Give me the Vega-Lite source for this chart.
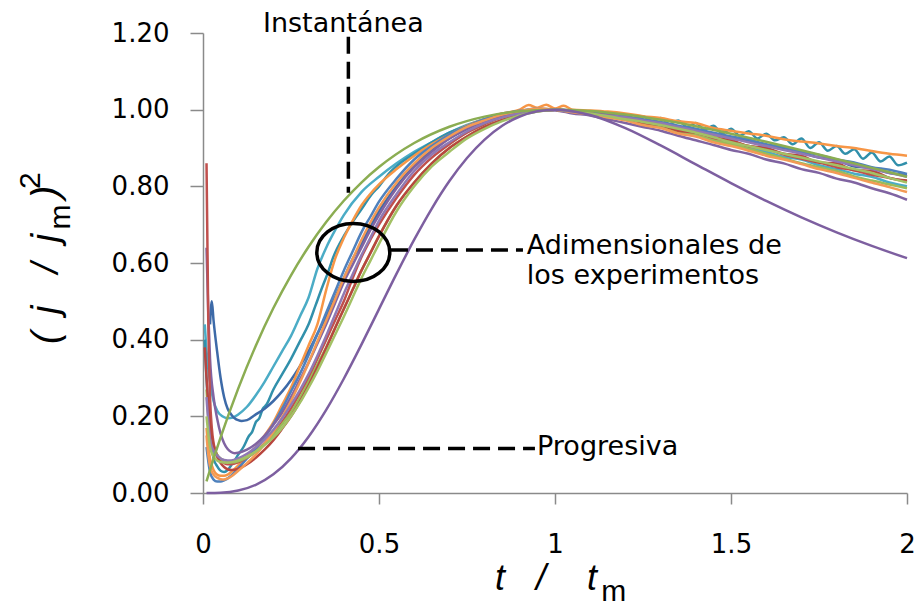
{
"$schema": "https://vega.github.io/schema/vega-lite/v6.json",
"width": 704, "height": 460,
"autosize": {"type": "none"},
"padding": {"left": 203, "top": 33, "right": 13, "bottom": 116},
"background": "white",
"config": {"view": {"stroke": null}},
"encoding": {
 "x": {"field": "t", "type": "quantitative", "scale": {"domain": [0, 2], "nice": false, "zero": false},
  "axis": {"values": [0, 0.5, 1, 1.5, 2], "format": "~g", "title": null, "grid": false, "tickSize": 11, "labelPadding": 27, "labelFontSize": 26, "labelFont": "DejaVu Sans", "labelColor": "#000000", "domainColor": "#8a8a8a", "tickColor": "#8a8a8a", "domainWidth": 1.5, "tickWidth": 1.5, "labelFlush": false, "labelOverlap": false}},
 "y": {"field": "y", "type": "quantitative", "scale": {"domain": [0, 1.2], "nice": false, "zero": false},
  "axis": {"values": [0, 0.2, 0.4, 0.6, 0.8, 1.0, 1.2], "format": ".2f", "title": null, "grid": false, "tickSize": 13, "labelPadding": 21, "labelFontSize": 26, "labelFont": "DejaVu Sans", "labelColor": "#000000", "domainColor": "#8a8a8a", "tickColor": "#8a8a8a", "domainWidth": 1.5, "tickWidth": 1.5, "labelFlush": false, "labelOverlap": false}}
},
"layer": [
{
 "data": {"values": [
{"s":"e01","t":0.005,"y":0.44},{"s":"e01","t":0.01,"y":0.37},{"s":"e01","t":0.02,"y":0.29},{"s":"e01","t":0.03,"y":0.24},{"s":"e01","t":0.04,"y":0.215},{"s":"e01","t":0.055,"y":0.2},{"s":"e01","t":0.07,"y":0.195},{"s":"e01","t":0.085,"y":0.197},{"s":"e01","t":0.1,"y":0.205},{"s":"e01","t":0.125,"y":0.225},{"s":"e01","t":0.15,"y":0.255},{"s":"e01","t":0.175,"y":0.29},{"s":"e01","t":0.2,"y":0.33},{"s":"e01","t":0.225,"y":0.37},{"s":"e01","t":0.25,"y":0.41},{"s":"e01","t":0.275,"y":0.46},{"s":"e01","t":0.3,"y":0.51},{"s":"e01","t":0.325,"y":0.585},{"s":"e01","t":0.35,"y":0.64},{"s":"e01","t":0.375,"y":0.685},{"s":"e01","t":0.4,"y":0.725},{"s":"e01","t":0.45,"y":0.785},{"s":"e01","t":0.5,"y":0.825},{"s":"e01","t":0.55,"y":0.86},{"s":"e01","t":0.6,"y":0.89},{"s":"e01","t":0.65,"y":0.915},{"s":"e01","t":0.7,"y":0.94},{"s":"e01","t":0.75,"y":0.96},{"s":"e01","t":0.8,"y":0.975},{"s":"e01","t":0.85,"y":0.987},{"s":"e01","t":0.9,"y":0.995},{"s":"e01","t":0.95,"y":1.0},{"s":"e01","t":1.0,"y":1.0},{"s":"e01","t":1.05,"y":0.995},{"s":"e01","t":1.1,"y":0.99},{"s":"e01","t":1.15,"y":0.985},{"s":"e01","t":1.2,"y":0.975},{"s":"e01","t":1.25,"y":0.963},{"s":"e01","t":1.3,"y":0.955},{"s":"e01","t":1.35,"y":0.944},{"s":"e01","t":1.4,"y":0.935},{"s":"e01","t":1.45,"y":0.92},{"s":"e01","t":1.5,"y":0.91},{"s":"e01","t":1.55,"y":0.9},{"s":"e01","t":1.6,"y":0.89},{"s":"e01","t":1.65,"y":0.877},{"s":"e01","t":1.7,"y":0.87},{"s":"e01","t":1.75,"y":0.855},{"s":"e01","t":1.8,"y":0.845},{"s":"e01","t":1.85,"y":0.833},{"s":"e01","t":1.9,"y":0.825},{"s":"e01","t":1.95,"y":0.81},{"s":"e01","t":2.0,"y":0.8},
{"s":"e02","t":0.005,"y":0.4},{"s":"e02","t":0.01,"y":0.3},{"s":"e02","t":0.02,"y":0.15},{"s":"e02","t":0.03,"y":0.09},{"s":"e02","t":0.04,"y":0.07},{"s":"e02","t":0.05,"y":0.058},{"s":"e02","t":0.06,"y":0.055},{"s":"e02","t":0.07,"y":0.06},{"s":"e02","t":0.08,"y":0.072},{"s":"e02","t":0.09,"y":0.085},{"s":"e02","t":0.1,"y":0.1},{"s":"e02","t":0.115,"y":0.12},{"s":"e02","t":0.13,"y":0.148},{"s":"e02","t":0.14,"y":0.16},{"s":"e02","t":0.15,"y":0.185},{"s":"e02","t":0.16,"y":0.195},{"s":"e02","t":0.17,"y":0.22},{"s":"e02","t":0.18,"y":0.23},{"s":"e02","t":0.2,"y":0.27},{"s":"e02","t":0.225,"y":0.31},{"s":"e02","t":0.25,"y":0.35},{"s":"e02","t":0.275,"y":0.395},{"s":"e02","t":0.3,"y":0.44},{"s":"e02","t":0.32,"y":0.49},{"s":"e02","t":0.34,"y":0.54},{"s":"e02","t":0.355,"y":0.575},{"s":"e02","t":0.37,"y":0.615},{"s":"e02","t":0.4,"y":0.67},{"s":"e02","t":0.42,"y":0.7},{"s":"e02","t":0.45,"y":0.74},{"s":"e02","t":0.48,"y":0.78},{"s":"e02","t":0.5,"y":0.8},{"s":"e02","t":0.53,"y":0.835},{"s":"e02","t":0.56,"y":0.86},{"s":"e02","t":0.6,"y":0.885},{"s":"e02","t":0.65,"y":0.915},{"s":"e02","t":0.7,"y":0.94},{"s":"e02","t":0.75,"y":0.958},{"s":"e02","t":0.8,"y":0.975},{"s":"e02","t":0.85,"y":0.99},{"s":"e02","t":0.9,"y":0.995},{"s":"e02","t":0.95,"y":1.0},{"s":"e02","t":1.0,"y":1.0},{"s":"e02","t":1.05,"y":0.998},{"s":"e02","t":1.1,"y":0.993},{"s":"e02","t":1.15,"y":0.99},{"s":"e02","t":1.2,"y":0.983},{"s":"e02","t":1.225,"y":0.975},{"s":"e02","t":1.25,"y":0.983},{"s":"e02","t":1.275,"y":0.97},{"s":"e02","t":1.3,"y":0.978},{"s":"e02","t":1.325,"y":0.962},{"s":"e02","t":1.35,"y":0.972},{"s":"e02","t":1.375,"y":0.955},{"s":"e02","t":1.4,"y":0.965},{"s":"e02","t":1.425,"y":0.948},{"s":"e02","t":1.45,"y":0.958},{"s":"e02","t":1.475,"y":0.938},{"s":"e02","t":1.5,"y":0.95},{"s":"e02","t":1.525,"y":0.932},{"s":"e02","t":1.55,"y":0.944},{"s":"e02","t":1.575,"y":0.925},{"s":"e02","t":1.6,"y":0.937},{"s":"e02","t":1.625,"y":0.92},{"s":"e02","t":1.65,"y":0.928},{"s":"e02","t":1.675,"y":0.91},{"s":"e02","t":1.7,"y":0.925},{"s":"e02","t":1.725,"y":0.9},{"s":"e02","t":1.75,"y":0.915},{"s":"e02","t":1.775,"y":0.893},{"s":"e02","t":1.8,"y":0.905},{"s":"e02","t":1.825,"y":0.885},{"s":"e02","t":1.85,"y":0.897},{"s":"e02","t":1.875,"y":0.872},{"s":"e02","t":1.9,"y":0.888},{"s":"e02","t":1.925,"y":0.865},{"s":"e02","t":1.95,"y":0.878},{"s":"e02","t":1.975,"y":0.855},{"s":"e02","t":2.0,"y":0.862},
{"s":"e03","t":0.02,"y":0.44},{"s":"e03","t":0.025,"y":0.5},{"s":"e03","t":0.03,"y":0.45},{"s":"e03","t":0.04,"y":0.37},{"s":"e03","t":0.05,"y":0.3},{"s":"e03","t":0.06,"y":0.25},{"s":"e03","t":0.07,"y":0.22},{"s":"e03","t":0.08,"y":0.205},{"s":"e03","t":0.09,"y":0.195},{"s":"e03","t":0.1,"y":0.19},{"s":"e03","t":0.11,"y":0.188},{"s":"e03","t":0.125,"y":0.19},{"s":"e03","t":0.15,"y":0.205},{"s":"e03","t":0.175,"y":0.22},{"s":"e03","t":0.2,"y":0.24},{"s":"e03","t":0.225,"y":0.265},{"s":"e03","t":0.25,"y":0.295},{"s":"e03","t":0.275,"y":0.33},{"s":"e03","t":0.3,"y":0.37},{"s":"e03","t":0.325,"y":0.415},{"s":"e03","t":0.35,"y":0.46},{"s":"e03","t":0.375,"y":0.51},{"s":"e03","t":0.4,"y":0.56},{"s":"e03","t":0.425,"y":0.61},{"s":"e03","t":0.45,"y":0.65},{"s":"e03","t":0.475,"y":0.695},{"s":"e03","t":0.5,"y":0.735},{"s":"e03","t":0.55,"y":0.8},{"s":"e03","t":0.6,"y":0.855},{"s":"e03","t":0.65,"y":0.895},{"s":"e03","t":0.7,"y":0.925},{"s":"e03","t":0.75,"y":0.95},{"s":"e03","t":0.8,"y":0.97},{"s":"e03","t":0.85,"y":0.985},{"s":"e03","t":0.9,"y":0.993},{"s":"e03","t":0.95,"y":1.0},{"s":"e03","t":1.0,"y":1.0},{"s":"e03","t":1.05,"y":0.998},{"s":"e03","t":1.1,"y":0.99},{"s":"e03","t":1.15,"y":0.988},{"s":"e03","t":1.2,"y":0.98},{"s":"e03","t":1.25,"y":0.97},{"s":"e03","t":1.3,"y":0.965},{"s":"e03","t":1.35,"y":0.952},{"s":"e03","t":1.4,"y":0.945},{"s":"e03","t":1.45,"y":0.935},{"s":"e03","t":1.5,"y":0.925},{"s":"e03","t":1.55,"y":0.918},{"s":"e03","t":1.6,"y":0.905},{"s":"e03","t":1.65,"y":0.9},{"s":"e03","t":1.7,"y":0.888},{"s":"e03","t":1.75,"y":0.875},{"s":"e03","t":1.8,"y":0.868},{"s":"e03","t":1.85,"y":0.852},{"s":"e03","t":1.9,"y":0.848},{"s":"e03","t":1.95,"y":0.835},{"s":"e03","t":2.0,"y":0.83},
{"s":"e04","t":0.01,"y":0.17},{"s":"e04","t":0.015,"y":0.12},{"s":"e04","t":0.02,"y":0.09},{"s":"e04","t":0.03,"y":0.06},{"s":"e04","t":0.04,"y":0.048},{"s":"e04","t":0.05,"y":0.045},{"s":"e04","t":0.06,"y":0.045},{"s":"e04","t":0.07,"y":0.048},{"s":"e04","t":0.08,"y":0.054},{"s":"e04","t":0.1,"y":0.072},{"s":"e04","t":0.125,"y":0.095},{"s":"e04","t":0.15,"y":0.12},{"s":"e04","t":0.175,"y":0.15},{"s":"e04","t":0.2,"y":0.185},{"s":"e04","t":0.225,"y":0.23},{"s":"e04","t":0.25,"y":0.275},{"s":"e04","t":0.275,"y":0.33},{"s":"e04","t":0.3,"y":0.385},{"s":"e04","t":0.325,"y":0.44},{"s":"e04","t":0.35,"y":0.53},{"s":"e04","t":0.375,"y":0.61},{"s":"e04","t":0.4,"y":0.665},{"s":"e04","t":0.425,"y":0.71},{"s":"e04","t":0.45,"y":0.75},{"s":"e04","t":0.475,"y":0.78},{"s":"e04","t":0.5,"y":0.805},{"s":"e04","t":0.55,"y":0.845},{"s":"e04","t":0.6,"y":0.88},{"s":"e04","t":0.65,"y":0.91},{"s":"e04","t":0.7,"y":0.935},{"s":"e04","t":0.75,"y":0.958},{"s":"e04","t":0.8,"y":0.975},{"s":"e04","t":0.85,"y":0.99},{"s":"e04","t":0.9,"y":1.0},{"s":"e04","t":0.925,"y":1.012},{"s":"e04","t":0.95,"y":1.005},{"s":"e04","t":0.975,"y":1.013},{"s":"e04","t":1.0,"y":1.003},{"s":"e04","t":1.025,"y":1.01},{"s":"e04","t":1.05,"y":1.0},{"s":"e04","t":1.1,"y":0.998},{"s":"e04","t":1.15,"y":0.995},{"s":"e04","t":1.2,"y":0.99},{"s":"e04","t":1.25,"y":0.983},{"s":"e04","t":1.3,"y":0.978},{"s":"e04","t":1.35,"y":0.97},{"s":"e04","t":1.4,"y":0.965},{"s":"e04","t":1.45,"y":0.952},{"s":"e04","t":1.5,"y":0.945},{"s":"e04","t":1.55,"y":0.938},{"s":"e04","t":1.6,"y":0.932},{"s":"e04","t":1.65,"y":0.923},{"s":"e04","t":1.7,"y":0.917},{"s":"e04","t":1.75,"y":0.912},{"s":"e04","t":1.8,"y":0.905},{"s":"e04","t":1.85,"y":0.9},{"s":"e04","t":1.9,"y":0.892},{"s":"e04","t":1.95,"y":0.885},{"s":"e04","t":2.0,"y":0.88},
{"s":"e05","t":0.01,"y":0.12},{"s":"e05","t":0.02,"y":0.055},{"s":"e05","t":0.03,"y":0.035},{"s":"e05","t":0.04,"y":0.03},{"s":"e05","t":0.05,"y":0.03},{"s":"e05","t":0.06,"y":0.033},{"s":"e05","t":0.08,"y":0.045},{"s":"e05","t":0.1,"y":0.065},{"s":"e05","t":0.125,"y":0.09},{"s":"e05","t":0.15,"y":0.115},{"s":"e05","t":0.175,"y":0.145},{"s":"e05","t":0.2,"y":0.18},{"s":"e05","t":0.225,"y":0.22},{"s":"e05","t":0.25,"y":0.265},{"s":"e05","t":0.275,"y":0.31},{"s":"e05","t":0.3,"y":0.36},{"s":"e05","t":0.325,"y":0.415},{"s":"e05","t":0.35,"y":0.47},{"s":"e05","t":0.375,"y":0.525},{"s":"e05","t":0.4,"y":0.58},{"s":"e05","t":0.425,"y":0.63},{"s":"e05","t":0.45,"y":0.68},{"s":"e05","t":0.475,"y":0.72},{"s":"e05","t":0.5,"y":0.76},{"s":"e05","t":0.55,"y":0.82},{"s":"e05","t":0.6,"y":0.87},{"s":"e05","t":0.65,"y":0.905},{"s":"e05","t":0.7,"y":0.935},{"s":"e05","t":0.75,"y":0.957},{"s":"e05","t":0.8,"y":0.975},{"s":"e05","t":0.85,"y":0.988},{"s":"e05","t":0.9,"y":0.997},{"s":"e05","t":0.95,"y":1.003},{"s":"e05","t":1.0,"y":1.0},{"s":"e05","t":1.05,"y":0.997},{"s":"e05","t":1.1,"y":0.994},{"s":"e05","t":1.15,"y":0.99},{"s":"e05","t":1.2,"y":0.983},{"s":"e05","t":1.25,"y":0.975},{"s":"e05","t":1.3,"y":0.968},{"s":"e05","t":1.35,"y":0.958},{"s":"e05","t":1.4,"y":0.95},{"s":"e05","t":1.45,"y":0.94},{"s":"e05","t":1.5,"y":0.93},{"s":"e05","t":1.55,"y":0.922},{"s":"e05","t":1.6,"y":0.91},{"s":"e05","t":1.65,"y":0.902},{"s":"e05","t":1.7,"y":0.89},{"s":"e05","t":1.75,"y":0.882},{"s":"e05","t":1.8,"y":0.87},{"s":"e05","t":1.85,"y":0.862},{"s":"e05","t":1.9,"y":0.85},{"s":"e05","t":1.95,"y":0.843},{"s":"e05","t":2.0,"y":0.832},
{"s":"e06","t":0.01,"y":0.64},{"s":"e06","t":0.015,"y":0.47},{"s":"e06","t":0.02,"y":0.35},{"s":"e06","t":0.03,"y":0.25},{"s":"e06","t":0.04,"y":0.195},{"s":"e06","t":0.05,"y":0.155},{"s":"e06","t":0.06,"y":0.13},{"s":"e06","t":0.07,"y":0.115},{"s":"e06","t":0.08,"y":0.107},{"s":"e06","t":0.09,"y":0.104},{"s":"e06","t":0.1,"y":0.105},{"s":"e06","t":0.125,"y":0.113},{"s":"e06","t":0.15,"y":0.128},{"s":"e06","t":0.175,"y":0.15},{"s":"e06","t":0.2,"y":0.178},{"s":"e06","t":0.225,"y":0.21},{"s":"e06","t":0.25,"y":0.25},{"s":"e06","t":0.275,"y":0.295},{"s":"e06","t":0.3,"y":0.34},{"s":"e06","t":0.325,"y":0.39},{"s":"e06","t":0.35,"y":0.44},{"s":"e06","t":0.375,"y":0.495},{"s":"e06","t":0.4,"y":0.55},{"s":"e06","t":0.425,"y":0.595},{"s":"e06","t":0.45,"y":0.64},{"s":"e06","t":0.475,"y":0.685},{"s":"e06","t":0.5,"y":0.725},{"s":"e06","t":0.55,"y":0.795},{"s":"e06","t":0.6,"y":0.85},{"s":"e06","t":0.65,"y":0.89},{"s":"e06","t":0.7,"y":0.925},{"s":"e06","t":0.75,"y":0.95},{"s":"e06","t":0.8,"y":0.97},{"s":"e06","t":0.85,"y":0.985},{"s":"e06","t":0.9,"y":0.993},{"s":"e06","t":0.95,"y":0.998},{"s":"e06","t":1.0,"y":0.998},{"s":"e06","t":1.05,"y":0.99},{"s":"e06","t":1.1,"y":0.985},{"s":"e06","t":1.15,"y":0.975},{"s":"e06","t":1.2,"y":0.965},{"s":"e06","t":1.25,"y":0.955},{"s":"e06","t":1.3,"y":0.945},{"s":"e06","t":1.35,"y":0.932},{"s":"e06","t":1.4,"y":0.92},{"s":"e06","t":1.45,"y":0.908},{"s":"e06","t":1.5,"y":0.895},{"s":"e06","t":1.55,"y":0.885},{"s":"e06","t":1.6,"y":0.87},{"s":"e06","t":1.65,"y":0.86},{"s":"e06","t":1.7,"y":0.845},{"s":"e06","t":1.75,"y":0.835},{"s":"e06","t":1.8,"y":0.82},{"s":"e06","t":1.85,"y":0.81},{"s":"e06","t":1.9,"y":0.795},{"s":"e06","t":1.95,"y":0.782},{"s":"e06","t":2.0,"y":0.765},
{"s":"e07","t":0.01,"y":0.86},{"s":"e07","t":0.015,"y":0.45},{"s":"e07","t":0.02,"y":0.25},{"s":"e07","t":0.025,"y":0.17},{"s":"e07","t":0.03,"y":0.13},{"s":"e07","t":0.04,"y":0.1},{"s":"e07","t":0.05,"y":0.085},{"s":"e07","t":0.06,"y":0.078},{"s":"e07","t":0.07,"y":0.075},{"s":"e07","t":0.08,"y":0.075},{"s":"e07","t":0.1,"y":0.08},{"s":"e07","t":0.125,"y":0.092},{"s":"e07","t":0.15,"y":0.108},{"s":"e07","t":0.175,"y":0.13},{"s":"e07","t":0.2,"y":0.155},{"s":"e07","t":0.225,"y":0.185},{"s":"e07","t":0.25,"y":0.22},{"s":"e07","t":0.275,"y":0.26},{"s":"e07","t":0.3,"y":0.3},{"s":"e07","t":0.325,"y":0.35},{"s":"e07","t":0.35,"y":0.4},{"s":"e07","t":0.375,"y":0.45},{"s":"e07","t":0.4,"y":0.5},{"s":"e07","t":0.425,"y":0.56},{"s":"e07","t":0.45,"y":0.615},{"s":"e07","t":0.475,"y":0.66},{"s":"e07","t":0.5,"y":0.7},{"s":"e07","t":0.55,"y":0.77},{"s":"e07","t":0.6,"y":0.83},{"s":"e07","t":0.65,"y":0.875},{"s":"e07","t":0.7,"y":0.91},{"s":"e07","t":0.75,"y":0.94},{"s":"e07","t":0.8,"y":0.962},{"s":"e07","t":0.85,"y":0.98},{"s":"e07","t":0.9,"y":0.99},{"s":"e07","t":0.95,"y":0.998},{"s":"e07","t":1.0,"y":1.0},{"s":"e07","t":1.05,"y":0.995},{"s":"e07","t":1.1,"y":0.99},{"s":"e07","t":1.15,"y":0.982},{"s":"e07","t":1.2,"y":0.975},{"s":"e07","t":1.25,"y":0.965},{"s":"e07","t":1.3,"y":0.96},{"s":"e07","t":1.35,"y":0.945},{"s":"e07","t":1.4,"y":0.94},{"s":"e07","t":1.45,"y":0.925},{"s":"e07","t":1.5,"y":0.918},{"s":"e07","t":1.55,"y":0.905},{"s":"e07","t":1.6,"y":0.897},{"s":"e07","t":1.65,"y":0.883},{"s":"e07","t":1.7,"y":0.872},{"s":"e07","t":1.75,"y":0.862},{"s":"e07","t":1.8,"y":0.85},{"s":"e07","t":1.85,"y":0.842},{"s":"e07","t":1.9,"y":0.83},{"s":"e07","t":1.95,"y":0.822},{"s":"e07","t":2.0,"y":0.812},
{"s":"e08","t":0.01,"y":0.27},{"s":"e08","t":0.015,"y":0.2},{"s":"e08","t":0.02,"y":0.155},{"s":"e08","t":0.03,"y":0.12},{"s":"e08","t":0.04,"y":0.1},{"s":"e08","t":0.05,"y":0.09},{"s":"e08","t":0.06,"y":0.085},{"s":"e08","t":0.07,"y":0.082},{"s":"e08","t":0.08,"y":0.08},{"s":"e08","t":0.1,"y":0.083},{"s":"e08","t":0.125,"y":0.093},{"s":"e08","t":0.15,"y":0.108},{"s":"e08","t":0.175,"y":0.128},{"s":"e08","t":0.2,"y":0.152},{"s":"e08","t":0.225,"y":0.18},{"s":"e08","t":0.25,"y":0.21},{"s":"e08","t":0.275,"y":0.248},{"s":"e08","t":0.3,"y":0.29},{"s":"e08","t":0.325,"y":0.335},{"s":"e08","t":0.35,"y":0.38},{"s":"e08","t":0.375,"y":0.43},{"s":"e08","t":0.4,"y":0.48},{"s":"e08","t":0.425,"y":0.53},{"s":"e08","t":0.45,"y":0.58},{"s":"e08","t":0.475,"y":0.625},{"s":"e08","t":0.5,"y":0.67},{"s":"e08","t":0.55,"y":0.75},{"s":"e08","t":0.6,"y":0.81},{"s":"e08","t":0.65,"y":0.86},{"s":"e08","t":0.7,"y":0.9},{"s":"e08","t":0.75,"y":0.93},{"s":"e08","t":0.8,"y":0.955},{"s":"e08","t":0.85,"y":0.973},{"s":"e08","t":0.9,"y":0.987},{"s":"e08","t":0.95,"y":0.995},{"s":"e08","t":1.0,"y":1.0},{"s":"e08","t":1.05,"y":0.995},{"s":"e08","t":1.1,"y":0.99},{"s":"e08","t":1.15,"y":0.98},{"s":"e08","t":1.2,"y":0.975},{"s":"e08","t":1.25,"y":0.962},{"s":"e08","t":1.3,"y":0.955},{"s":"e08","t":1.35,"y":0.942},{"s":"e08","t":1.4,"y":0.935},{"s":"e08","t":1.45,"y":0.92},{"s":"e08","t":1.5,"y":0.91},{"s":"e08","t":1.55,"y":0.898},{"s":"e08","t":1.6,"y":0.885},{"s":"e08","t":1.65,"y":0.873},{"s":"e08","t":1.7,"y":0.86},{"s":"e08","t":1.75,"y":0.85},{"s":"e08","t":1.8,"y":0.84},{"s":"e08","t":1.85,"y":0.826},{"s":"e08","t":1.9,"y":0.815},{"s":"e08","t":1.95,"y":0.805},{"s":"e08","t":2.0,"y":0.795},
{"s":"e09","t":0.005,"y":0.38},{"s":"e09","t":0.01,"y":0.3},{"s":"e09","t":0.02,"y":0.18},{"s":"e09","t":0.03,"y":0.125},{"s":"e09","t":0.04,"y":0.095},{"s":"e09","t":0.05,"y":0.078},{"s":"e09","t":0.06,"y":0.068},{"s":"e09","t":0.07,"y":0.062},{"s":"e09","t":0.08,"y":0.06},{"s":"e09","t":0.1,"y":0.063},{"s":"e09","t":0.125,"y":0.075},{"s":"e09","t":0.15,"y":0.092},{"s":"e09","t":0.175,"y":0.113},{"s":"e09","t":0.2,"y":0.138},{"s":"e09","t":0.225,"y":0.168},{"s":"e09","t":0.25,"y":0.2},{"s":"e09","t":0.275,"y":0.238},{"s":"e09","t":0.3,"y":0.28},{"s":"e09","t":0.325,"y":0.328},{"s":"e09","t":0.35,"y":0.378},{"s":"e09","t":0.375,"y":0.43},{"s":"e09","t":0.4,"y":0.48},{"s":"e09","t":0.425,"y":0.53},{"s":"e09","t":0.45,"y":0.58},{"s":"e09","t":0.475,"y":0.625},{"s":"e09","t":0.5,"y":0.67},{"s":"e09","t":0.55,"y":0.75},{"s":"e09","t":0.6,"y":0.81},{"s":"e09","t":0.65,"y":0.86},{"s":"e09","t":0.7,"y":0.9},{"s":"e09","t":0.75,"y":0.93},{"s":"e09","t":0.8,"y":0.955},{"s":"e09","t":0.85,"y":0.973},{"s":"e09","t":0.9,"y":0.987},{"s":"e09","t":0.95,"y":0.997},{"s":"e09","t":1.0,"y":1.0},{"s":"e09","t":1.05,"y":0.997},{"s":"e09","t":1.1,"y":0.99},{"s":"e09","t":1.15,"y":0.985},{"s":"e09","t":1.2,"y":0.978},{"s":"e09","t":1.25,"y":0.965},{"s":"e09","t":1.3,"y":0.96},{"s":"e09","t":1.35,"y":0.945},{"s":"e09","t":1.4,"y":0.94},{"s":"e09","t":1.45,"y":0.928},{"s":"e09","t":1.5,"y":0.92},{"s":"e09","t":1.55,"y":0.905},{"s":"e09","t":1.6,"y":0.9},{"s":"e09","t":1.65,"y":0.885},{"s":"e09","t":1.7,"y":0.88},{"s":"e09","t":1.75,"y":0.862},{"s":"e09","t":1.8,"y":0.86},{"s":"e09","t":1.85,"y":0.842},{"s":"e09","t":1.9,"y":0.84},{"s":"e09","t":1.95,"y":0.822},{"s":"e09","t":2.0,"y":0.815},
{"s":"e10","t":0.01,"y":0.15},{"s":"e10","t":0.015,"y":0.1},{"s":"e10","t":0.02,"y":0.07},{"s":"e10","t":0.03,"y":0.048},{"s":"e10","t":0.04,"y":0.04},{"s":"e10","t":0.05,"y":0.036},{"s":"e10","t":0.06,"y":0.035},{"s":"e10","t":0.07,"y":0.038},{"s":"e10","t":0.08,"y":0.043},{"s":"e10","t":0.1,"y":0.058},{"s":"e10","t":0.125,"y":0.078},{"s":"e10","t":0.15,"y":0.1},{"s":"e10","t":0.175,"y":0.128},{"s":"e10","t":0.2,"y":0.16},{"s":"e10","t":0.225,"y":0.198},{"s":"e10","t":0.25,"y":0.24},{"s":"e10","t":0.275,"y":0.288},{"s":"e10","t":0.3,"y":0.34},{"s":"e10","t":0.325,"y":0.395},{"s":"e10","t":0.35,"y":0.45},{"s":"e10","t":0.375,"y":0.505},{"s":"e10","t":0.4,"y":0.56},{"s":"e10","t":0.425,"y":0.61},{"s":"e10","t":0.45,"y":0.66},{"s":"e10","t":0.475,"y":0.705},{"s":"e10","t":0.5,"y":0.745},{"s":"e10","t":0.55,"y":0.81},{"s":"e10","t":0.6,"y":0.86},{"s":"e10","t":0.65,"y":0.9},{"s":"e10","t":0.7,"y":0.93},{"s":"e10","t":0.75,"y":0.955},{"s":"e10","t":0.8,"y":0.972},{"s":"e10","t":0.85,"y":0.987},{"s":"e10","t":0.9,"y":0.996},{"s":"e10","t":0.95,"y":1.003},{"s":"e10","t":1.0,"y":1.0},{"s":"e10","t":1.05,"y":0.993},{"s":"e10","t":1.1,"y":0.988},{"s":"e10","t":1.15,"y":0.98},{"s":"e10","t":1.2,"y":0.972},{"s":"e10","t":1.25,"y":0.96},{"s":"e10","t":1.3,"y":0.952},{"s":"e10","t":1.35,"y":0.938},{"s":"e10","t":1.4,"y":0.93},{"s":"e10","t":1.45,"y":0.915},{"s":"e10","t":1.5,"y":0.905},{"s":"e10","t":1.55,"y":0.893},{"s":"e10","t":1.6,"y":0.88},{"s":"e10","t":1.65,"y":0.87},{"s":"e10","t":1.7,"y":0.858},{"s":"e10","t":1.75,"y":0.845},{"s":"e10","t":1.8,"y":0.835},{"s":"e10","t":1.85,"y":0.822},{"s":"e10","t":1.9,"y":0.81},{"s":"e10","t":1.95,"y":0.798},{"s":"e10","t":2.0,"y":0.785},
{"s":"e11","t":0.01,"y":0.25},{"s":"e11","t":0.02,"y":0.14},{"s":"e11","t":0.03,"y":0.11},{"s":"e11","t":0.04,"y":0.098},{"s":"e11","t":0.05,"y":0.09},{"s":"e11","t":0.06,"y":0.086},{"s":"e11","t":0.07,"y":0.085},{"s":"e11","t":0.08,"y":0.085},{"s":"e11","t":0.1,"y":0.09},{"s":"e11","t":0.125,"y":0.102},{"s":"e11","t":0.15,"y":0.12},{"s":"e11","t":0.175,"y":0.14},{"s":"e11","t":0.2,"y":0.165},{"s":"e11","t":0.225,"y":0.195},{"s":"e11","t":0.25,"y":0.23},{"s":"e11","t":0.275,"y":0.268},{"s":"e11","t":0.3,"y":0.31},{"s":"e11","t":0.325,"y":0.358},{"s":"e11","t":0.35,"y":0.41},{"s":"e11","t":0.375,"y":0.465},{"s":"e11","t":0.4,"y":0.52},{"s":"e11","t":0.425,"y":0.57},{"s":"e11","t":0.45,"y":0.62},{"s":"e11","t":0.475,"y":0.665},{"s":"e11","t":0.5,"y":0.71},{"s":"e11","t":0.55,"y":0.78},{"s":"e11","t":0.6,"y":0.84},{"s":"e11","t":0.65,"y":0.883},{"s":"e11","t":0.7,"y":0.915},{"s":"e11","t":0.75,"y":0.943},{"s":"e11","t":0.8,"y":0.965},{"s":"e11","t":0.85,"y":0.98},{"s":"e11","t":0.9,"y":0.99},{"s":"e11","t":0.95,"y":0.997},{"s":"e11","t":1.0,"y":1.0},{"s":"e11","t":1.05,"y":0.995},{"s":"e11","t":1.1,"y":0.99},{"s":"e11","t":1.15,"y":0.985},{"s":"e11","t":1.2,"y":0.98},{"s":"e11","t":1.25,"y":0.972},{"s":"e11","t":1.3,"y":0.965},{"s":"e11","t":1.35,"y":0.955},{"s":"e11","t":1.4,"y":0.945},{"s":"e11","t":1.45,"y":0.935},{"s":"e11","t":1.5,"y":0.925},{"s":"e11","t":1.55,"y":0.915},{"s":"e11","t":1.6,"y":0.905},{"s":"e11","t":1.65,"y":0.895},{"s":"e11","t":1.7,"y":0.885},{"s":"e11","t":1.75,"y":0.875},{"s":"e11","t":1.8,"y":0.865},{"s":"e11","t":1.85,"y":0.855},{"s":"e11","t":1.9,"y":0.845},{"s":"e11","t":1.95,"y":0.835},{"s":"e11","t":2.0,"y":0.825},
{"s":"e12","t":0.01,"y":0.2},{"s":"e12","t":0.02,"y":0.12},{"s":"e12","t":0.03,"y":0.095},{"s":"e12","t":0.04,"y":0.085},{"s":"e12","t":0.05,"y":0.081},{"s":"e12","t":0.07,"y":0.079},{"s":"e12","t":0.1,"y":0.085},{"s":"e12","t":0.125,"y":0.095},{"s":"e12","t":0.15,"y":0.108},{"s":"e12","t":0.175,"y":0.125},{"s":"e12","t":0.2,"y":0.145},{"s":"e12","t":0.225,"y":0.17},{"s":"e12","t":0.25,"y":0.2},{"s":"e12","t":0.275,"y":0.235},{"s":"e12","t":0.3,"y":0.275},{"s":"e12","t":0.325,"y":0.318},{"s":"e12","t":0.35,"y":0.365},{"s":"e12","t":0.375,"y":0.412},{"s":"e12","t":0.4,"y":0.46},{"s":"e12","t":0.425,"y":0.51},{"s":"e12","t":0.45,"y":0.56},{"s":"e12","t":0.475,"y":0.605},{"s":"e12","t":0.5,"y":0.65},{"s":"e12","t":0.55,"y":0.735},{"s":"e12","t":0.6,"y":0.8},{"s":"e12","t":0.65,"y":0.852},{"s":"e12","t":0.7,"y":0.89},{"s":"e12","t":0.75,"y":0.925},{"s":"e12","t":0.8,"y":0.95},{"s":"e12","t":0.85,"y":0.97},{"s":"e12","t":0.9,"y":0.985},{"s":"e12","t":0.95,"y":0.995},{"s":"e12","t":1.0,"y":1.0},{"s":"e12","t":1.05,"y":0.997},{"s":"e12","t":1.1,"y":0.99},{"s":"e12","t":1.15,"y":0.983},{"s":"e12","t":1.2,"y":0.975},{"s":"e12","t":1.25,"y":0.968},{"s":"e12","t":1.3,"y":0.96},{"s":"e12","t":1.35,"y":0.95},{"s":"e12","t":1.4,"y":0.94},{"s":"e12","t":1.45,"y":0.928},{"s":"e12","t":1.5,"y":0.915},{"s":"e12","t":1.55,"y":0.905},{"s":"e12","t":1.6,"y":0.895},{"s":"e12","t":1.65,"y":0.885},{"s":"e12","t":1.7,"y":0.875},{"s":"e12","t":1.75,"y":0.865},{"s":"e12","t":1.8,"y":0.855},{"s":"e12","t":1.85,"y":0.845},{"s":"e12","t":1.9,"y":0.835},{"s":"e12","t":1.95,"y":0.822},{"s":"e12","t":2.0,"y":0.81},
{"s":"inst","t":0.01,"y":0.0305},{"s":"inst","t":0.02,"y":0.0602},{"s":"inst","t":0.05,"y":0.1449},{"s":"inst","t":0.1,"y":0.2724},{"s":"inst","t":0.15,"y":0.3844},{"s":"inst","t":0.2,"y":0.4825},{"s":"inst","t":0.25,"y":0.568},{"s":"inst","t":0.3,"y":0.6424},{"s":"inst","t":0.35,"y":0.7068},{"s":"inst","t":0.4,"y":0.7623},{"s":"inst","t":0.45,"y":0.8099},{"s":"inst","t":0.5,"y":0.8503},{"s":"inst","t":0.6,"y":0.913},{"s":"inst","t":0.7,"y":0.9554},{"s":"inst","t":0.8,"y":0.9819},{"s":"inst","t":0.9,"y":0.9958},{"s":"inst","t":1.0,"y":1.0},{"s":"inst","t":1.1,"y":0.9965},{"s":"inst","t":1.2,"y":0.9872},{"s":"inst","t":1.3,"y":0.9735},{"s":"inst","t":1.4,"y":0.9565},{"s":"inst","t":1.5,"y":0.9371},{"s":"inst","t":1.6,"y":0.9161},{"s":"inst","t":1.7,"y":0.894},{"s":"inst","t":1.8,"y":0.8712},{"s":"inst","t":1.9,"y":0.8482},{"s":"inst","t":2.0,"y":0.8252},
{"s":"prog","t":0.01,"y":0.0},{"s":"prog","t":0.05,"y":0.0008},{"s":"prog","t":0.1,"y":0.0065},{"s":"prog","t":0.15,"y":0.0214},{"s":"prog","t":0.2,"y":0.0488},{"s":"prog","t":0.25,"y":0.0905},{"s":"prog","t":0.3,"y":0.1469},{"s":"prog","t":0.35,"y":0.2169},{"s":"prog","t":0.4,"y":0.2981},{"s":"prog","t":0.45,"y":0.387},{"s":"prog","t":0.5,"y":0.4798},{"s":"prog","t":0.55,"y":0.5723},{"s":"prog","t":0.6,"y":0.6608},{"s":"prog","t":0.65,"y":0.7421},{"s":"prog","t":0.7,"y":0.8137},{"s":"prog","t":0.75,"y":0.8739},{"s":"prog","t":0.8,"y":0.922},{"s":"prog","t":0.85,"y":0.958},{"s":"prog","t":0.9,"y":0.9822},{"s":"prog","t":0.95,"y":0.9958},{"s":"prog","t":1.0,"y":1.0},{"s":"prog","t":1.1,"y":0.9861},{"s":"prog","t":1.2,"y":0.9518},{"s":"prog","t":1.3,"y":0.9066},{"s":"prog","t":1.4,"y":0.8574},{"s":"prog","t":1.5,"y":0.8085},{"s":"prog","t":1.6,"y":0.762},{"s":"prog","t":1.7,"y":0.7191},{"s":"prog","t":1.8,"y":0.6801},{"s":"prog","t":1.9,"y":0.6447},{"s":"prog","t":2.0,"y":0.6126}
 ]},
 "mark": {"type": "line", "interpolate": "monotone", "strokeWidth": 2.5},
 "encoding": {
  "color": {"field": "s", "type": "nominal", "legend": null,
   "scale": {"domain": ["e01","e02","e03","e04","e05","e06","e07","e08","e09","e10","e11","e12","inst","prog"],
    "range": ["#4BACC6","#3190AB","#3D6AA8","#F79646","#4F81BD","#8064A2","#C0504D","#9BBB59","#B8463F","#F39A55","#9079B3","#A3C165","#8BAD52","#7D5FA0"]}}
 }
},
{
 "data": {"values": [
  {"t": 0.413, "t2": 0.413, "y": 1.19, "y2": 0.783},
  {"t": 0.534, "t2": 0.909, "y": 0.634, "y2": 0.634},
  {"t": 0.27, "t2": 0.943, "y": 0.116, "y2": 0.116}
 ]},
 "mark": {"type": "rule", "color": "#000000", "strokeWidth": 3.5, "strokeDash": [17, 8]},
 "encoding": {"x2": {"field": "t2"}, "y2": {"field": "y2"}}
},
{
 "data": {"values": [{"t": 0.427, "y": 0.6275}]},
 "mark": {"type": "point", "shape": "M -1 0 A 1 0.795 0 1 1 1 0 A 1 0.795 0 1 1 -1 0 Z", "size": 5329, "filled": false, "color": "#000000", "strokeWidth": 3.5, "opacity": 1}
},
{
 "data": {"values": [
  {"txt": "Instantánea", "t": 0.1704, "y": 1.203},
  {"txt": "Adimensionales de", "t": 0.92, "y": 0.624},
  {"txt": "los experimentos", "t": 0.92, "y": 0.545},
  {"txt": "Progresiva", "t": 0.949, "y": 0.099}
 ]},
 "mark": {"type": "text", "font": "DejaVu Sans", "fontSize": 27, "align": "left", "baseline": "alphabetic", "color": "#000000"},
 "encoding": {"text": {"field": "txt"}}
},
{
 "data": {"values": [
  {"txt": "t", "t": 0.844, "y": -0.254},
  {"txt": "/", "t": 0.96, "y": -0.254},
  {"txt": "t", "t": 1.105, "y": -0.254}
 ]},
 "mark": {"type": "text", "font": "Liberation Sans", "fontStyle": "italic", "fontSize": 36, "align": "center", "baseline": "alphabetic", "color": "#000000"},
 "encoding": {"text": {"field": "txt"}}
},
{
 "data": {"values": [{"txt": "m", "t": 1.167, "y": -0.281}]},
 "mark": {"type": "text", "font": "Liberation Sans", "fontSize": 30, "align": "center", "baseline": "alphabetic", "color": "#000000"},
 "encoding": {"text": {"field": "txt"}}
},
{
 "data": {"values": [
  {"txt": "(", "t": -0.412, "y": 0.405},
  {"txt": "j", "t": -0.412, "y": 0.478},
  {"txt": "/", "t": -0.412, "y": 0.587},
  {"txt": "j", "t": -0.412, "y": 0.665},
  {"txt": ")", "t": -0.412, "y": 0.785}
 ]},
 "mark": {"type": "text", "font": "Liberation Sans", "fontStyle": "italic", "fontSize": 38, "angle": 270, "align": "center", "baseline": "alphabetic", "color": "#000000"},
 "encoding": {"text": {"field": "txt"}}
},
{
 "data": {"values": [
  {"txt": "m", "t": -0.378, "y": 0.72},
  {"txt": "2", "t": -0.463, "y": 0.815}
 ]},
 "mark": {"type": "text", "font": "Liberation Sans", "fontSize": 30, "angle": 270, "align": "center", "baseline": "alphabetic", "color": "#000000"},
 "encoding": {"text": {"field": "txt"}}
}
]
}
